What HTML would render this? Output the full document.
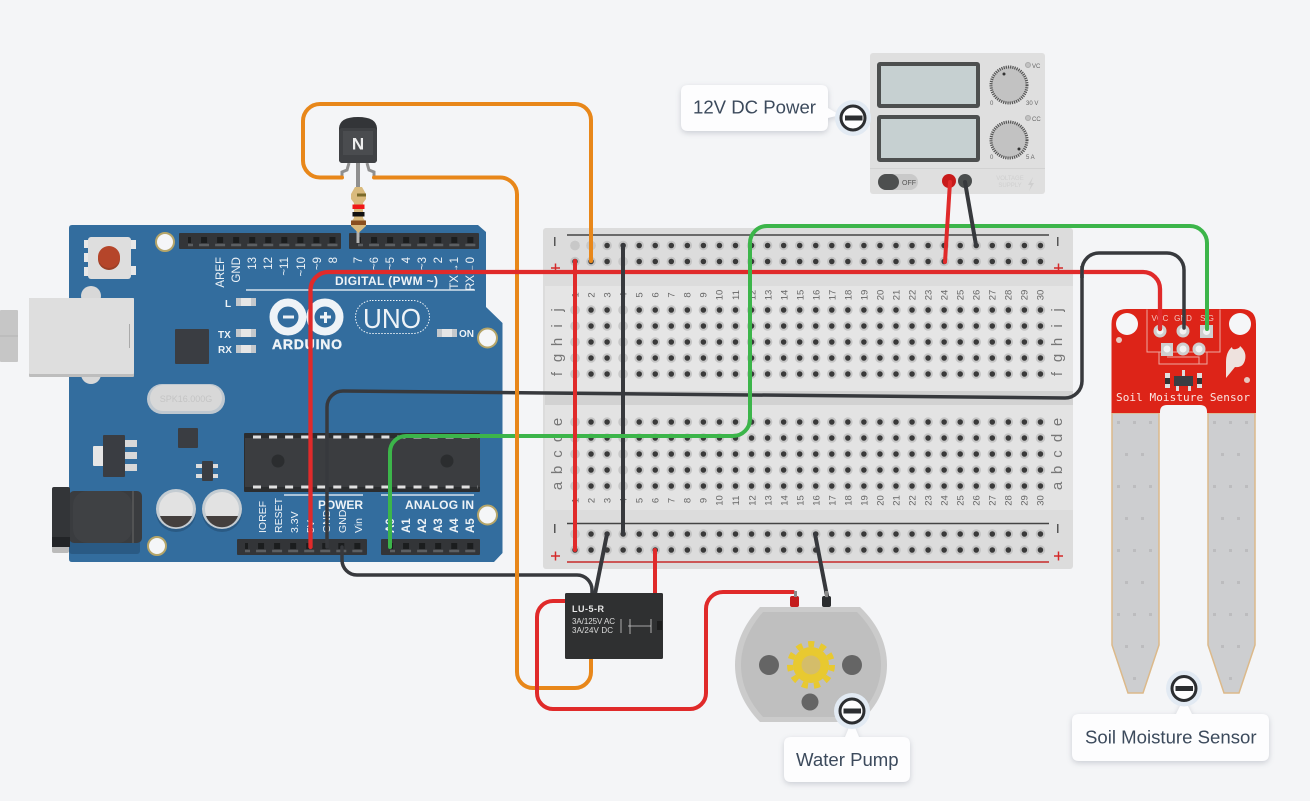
<!DOCTYPE html>
<html><head><meta charset="utf-8"><style>
html,body{margin:0;padding:0;background:#f4f5f7}
svg{display:block}
text{font-family:"Liberation Sans",sans-serif}
.w{fill:none;stroke-width:4;stroke-linejoin:round;stroke-linecap:round}
.ar text{fill:#eef3f7;font-size:11.5px}
.bn text{fill:#666;font-size:9.5px;text-anchor:middle}
.bl text{fill:#777;font-size:15px;text-anchor:middle}
</style></head><body>
<svg width="1310" height="801" viewBox="0 0 1310 801" xmlns="http://www.w3.org/2000/svg">
<rect width="1310" height="801" fill="#f4f5f7"/>

<!-- USB stub -->
<rect x="0" y="310" width="18" height="52" rx="1" fill="#c6c6c6"/>
<line x1="0" y1="336" x2="18" y2="336" stroke="#b4b4b4"/>

<!-- Arduino -->
<g class="ar">
<path d="M72 225H478L486 232V307L502.500 323V553L494 562H72Q69 562 69 559V228Q69 225 72 225Z" fill="#336d9e"/>
<rect x="179" y="233" width="162" height="16" rx="1" fill="#333538"/>
<rect x="349" y="233" width="130" height="16" rx="1" fill="#333538"/>
<rect x="237" y="539" width="130" height="16" rx="1" fill="#333538"/>
<rect x="381" y="539" width="99" height="16" rx="1" fill="#333538"/>
<path d="M188 240H340M358 240H478M245 546H366M390 546H478" stroke="#1b1d1e" stroke-width="6" stroke-dasharray="6 10.05" stroke-dashoffset="3"/>
<path d="M188 245H340M358 245H478M245 551H366M390 551H478" stroke="#5c5f62" stroke-width="2.500" stroke-dasharray="10 6.05" stroke-dashoffset="5"/>

<rect x="84" y="240" width="6" height="8" fill="#e8e8e8"/><rect x="84" y="253" width="6" height="9" fill="#e8e8e8"/><rect x="84" y="267" width="6" height="9" fill="#e8e8e8"/>
<rect x="131" y="240" width="5" height="9" fill="#e8e8e8"/><rect x="131" y="266" width="5" height="9" fill="#e8e8e8"/>
<rect x="88" y="237" width="43" height="42" rx="3" fill="#dedede"/>
<circle cx="109" cy="259" r="11" fill="#9a3f26"/><circle cx="109" cy="257" r="11" fill="#b5452a"/>

<circle cx="91" cy="296" r="10" fill="#d8d8d8"/><circle cx="91" cy="374" r="10" fill="#d8d8d8"/>
<rect x="29" y="298" width="105" height="79" rx="1" fill="#bdbdbd"/>
<rect x="29" y="298" width="105" height="76" rx="1" fill="#dedede"/>
<line x1="129.500" y1="324" x2="129.500" y2="348" stroke="#aaa"/>

<rect x="175" y="329" width="34" height="35" rx="1" fill="#3a3d42"/>
<rect x="147" y="384" width="78" height="30" rx="15" fill="#bfc8d0"/>
<rect x="150" y="385" width="72" height="26" rx="13" fill="#d8d8d8"/>
<text x="186" y="402" text-anchor="middle" style="font-size:9px;fill:#c4c4c4">SPK16.000G</text>
<rect x="178" y="428" width="20" height="20" rx="1" fill="#3a3d42"/>

<rect x="93" y="446" width="14" height="20" rx="1" fill="#e6e6e6"/>
<rect x="125" y="440" width="12" height="7" fill="#d8d8d8"/><rect x="125" y="452" width="12" height="7" fill="#d8d8d8"/><rect x="125" y="464" width="12" height="7" fill="#d8d8d8"/>
<rect x="103" y="435" width="22" height="42" rx="1" fill="#3a3d42"/>
<rect x="196" y="464" width="22" height="4" fill="#ddd"/><rect x="196" y="474" width="22" height="4" fill="#ddd"/>
<rect x="202" y="461" width="11" height="20" rx="1" fill="#3a3d42"/>

<rect x="69" y="505" width="71" height="49" rx="3" fill="#2a5a84"/>
<rect x="52" y="540" width="17" height="13" rx="2" fill="#bbb"/>
<rect x="69" y="491" width="73" height="52" rx="5" fill="#3a3c3f"/>
<rect x="73" y="491" width="59" height="52" rx="14" fill="#3f4144"/>
<line x1="133" y1="491" x2="133" y2="543" stroke="#6a6a6a"/>
<rect x="52" y="487" width="18" height="60" rx="2" fill="#333538"/>
<rect x="52" y="537" width="18" height="10" fill="#222427"/>

<circle cx="176" cy="512" r="20" fill="#2a5a84"/><circle cx="222" cy="512" r="20" fill="#2a5a84"/>
<circle cx="176" cy="509" r="20" fill="#c4ccd2"/><circle cx="222" cy="509" r="20" fill="#c4ccd2"/>
<circle cx="176" cy="509" r="17" fill="#e2e2e2"/><circle cx="222" cy="509" r="17" fill="#e2e2e2"/>
<path d="M160 516A17 17 0 0 0 192 516Z" fill="#443f3d"/><path d="M206 516A17 17 0 0 0 238 516Z" fill="#443f3d"/>

<g fill="#f5f6f8" stroke="#b5a569" stroke-width="2">
<circle cx="165" cy="242" r="9"/><circle cx="487.500" cy="338" r="9.500"/><circle cx="487.500" cy="515" r="9.500"/><circle cx="157" cy="546" r="9"/>
</g>

<rect x="244" y="433" width="236" height="59" rx="1" fill="#2b2d2f"/>
<rect x="245" y="438" width="235" height="49" fill="#3b3d40"/>
<path d="M253 437H478M253 487H478" stroke="#e0e0e0" stroke-width="3" stroke-dasharray="8 8.050"/>
<circle cx="278" cy="461" r="6.500" fill="#2b2d2f"/><circle cx="447" cy="461" r="6.500" fill="#2b2d2f"/>

<g fill="#c4c8cc"><rect x="236" y="298" width="20" height="8"/><rect x="236" y="329" width="20" height="8"/><rect x="236" y="345" width="20" height="8"/><rect x="437" y="329" width="20" height="8"/></g>
<g fill="#e6e6e6"><rect x="241" y="298" width="10" height="8"/><rect x="241" y="329" width="10" height="8"/><rect x="241" y="345" width="10" height="8"/><rect x="442" y="329" width="10" height="8"/></g>
<text x="225" y="307" style="font-size:10px;font-weight:bold">L</text>
<text x="218" y="338" style="font-size:10px;font-weight:bold">TX</text>
<text x="218" y="353" style="font-size:10px;font-weight:bold">RX</text>
<text x="459" y="337" style="font-size:10px;font-weight:bold">ON</text>

<path d="M246 290H475M284 495H363M381 495H474" stroke="#d5e2ec" stroke-width="1.500"/>
<text x="335" y="285" style="font-size:12px;font-weight:bold" textLength="103">DIGITAL (PWM ~)</text>
<text x="318" y="509" style="font-size:12px;font-weight:bold" textLength="45">POWER</text>
<text x="405" y="509" style="font-size:12px;font-weight:bold" textLength="69">ANALOG IN</text>

<circle cx="288" cy="317" r="14.500" fill="none" stroke="#eef3f7" stroke-width="8"/>
<circle cx="325" cy="317" r="14.500" fill="none" stroke="#eef3f7" stroke-width="8"/>
<rect x="283" y="315.500" width="11" height="3" fill="#eef3f7"/>
<rect x="320" y="315.500" width="11" height="3" fill="#eef3f7"/><rect x="324" y="312" width="3" height="11" fill="#eef3f7"/>
<text x="272" y="349" style="font-size:14px;font-weight:bold;stroke:#eef3f7;stroke-width:.4" textLength="70">ARDUINO</text>
<rect x="355.500" y="300.500" width="74" height="33" rx="16.500" fill="none" stroke="#eef3f7" stroke-dasharray="1.500 1.500"/>
<text x="363" y="328" style="font-size:28px" textLength="58" lengthAdjust="spacingAndGlyphs">UNO</text>

<g>
<text transform="translate(224 257) rotate(-90)" text-anchor="end">AREF</text>
<text transform="translate(240 257) rotate(-90)" text-anchor="end">GND</text>
<text transform="translate(256 257) rotate(-90)" text-anchor="end">13</text>
<text transform="translate(272 257) rotate(-90)" text-anchor="end">12</text>
<text transform="translate(288 257) rotate(-90)" text-anchor="end">~11</text>
<text transform="translate(305 257) rotate(-90)" text-anchor="end">~10</text>
<text transform="translate(321 257) rotate(-90)" text-anchor="end">~9</text>
<text transform="translate(337 257) rotate(-90)" text-anchor="end">8</text>
<text transform="translate(362 257) rotate(-90)" text-anchor="end">7</text>
<text transform="translate(378 257) rotate(-90)" text-anchor="end">~6</text>
<text transform="translate(394 257) rotate(-90)" text-anchor="end">~5</text>
<text transform="translate(410 257) rotate(-90)" text-anchor="end">4</text>
<text transform="translate(426 257) rotate(-90)" text-anchor="end">~3</text>
<text transform="translate(442 257) rotate(-90)" text-anchor="end">2</text>
<text transform="translate(458 257) rotate(-90)" text-anchor="end">TX→1</text>
<text transform="translate(474 257) rotate(-90)" text-anchor="end">RX←0</text>
<text transform="translate(266 533) rotate(-90)" style="font-size:10.500px">IOREF</text>
<text transform="translate(282 533) rotate(-90)" style="font-size:10.500px">RESET</text>
<text transform="translate(298 533) rotate(-90)" style="font-size:10.500px">3.3V</text>
<text transform="translate(314 533) rotate(-90)" style="font-size:10.500px">5V</text>
<text transform="translate(330 533) rotate(-90)" style="font-size:10.500px">GND</text>
<text transform="translate(346 533) rotate(-90)" style="font-size:10.500px">GND</text>
<text transform="translate(362 533) rotate(-90)" style="font-size:10.500px">Vin</text>
<text transform="translate(394 533) rotate(-90)" style="font-weight:bold">A0</text>
<text transform="translate(410 533) rotate(-90)" style="font-weight:bold">A1</text>
<text transform="translate(426 533) rotate(-90)" style="font-weight:bold">A2</text>
<text transform="translate(442 533) rotate(-90)" style="font-weight:bold">A3</text>
<text transform="translate(458 533) rotate(-90)" style="font-weight:bold">A4</text>
<text transform="translate(474 533) rotate(-90)" style="font-weight:bold">A5</text>
</g>
</g>

<!-- Breadboard -->
<rect x="543" y="228" width="530" height="341" rx="3" fill="#dcdcdc"/>
<rect x="545" y="286" width="528" height="105" fill="#e5e5e5"/>
<rect x="545" y="391" width="528" height="14" fill="#d2d2d2"/>
<rect x="545" y="405" width="528" height="105" fill="#e3e3e3"/>
<line x1="567" y1="235" x2="1049" y2="235" stroke="#444" stroke-width="1.500"/>
<line x1="567" y1="272" x2="1049" y2="272" stroke="#c62a2a" stroke-width="1.500"/>
<line x1="567" y1="523.500" x2="1049" y2="523.500" stroke="#444" stroke-width="1.500"/>
<line x1="567" y1="562" x2="1049" y2="562" stroke="#c62a2a" stroke-width="1.500"/>
<g fill="none" stroke-linecap="round" stroke-dasharray="0 16.05">
<path stroke="#c4c4c4" stroke-width="9.500" d="M575 245.500H1041M575 261.500H1041M575 310H1041M575 326H1041M575 342H1041M575 358H1041M575 374H1041M575 422H1041M575 438H1041M575 454H1041M575 470H1041M575 486H1041M575 534H1041M575 550H1041"/>
<path stroke="#3a3a3a" stroke-width="5.500" d="M575 245.500H1041M575 261.500H1041M575 310H1041M575 326H1041M575 342H1041M575 358H1041M575 374H1041M575 422H1041M575 438H1041M575 454H1041M575 470H1041M575 486H1041M575 534H1041M575 550H1041"/>
</g>
<g fill="#c8c8c8">
<circle cx="575" cy="245.500" r="4.750"/><circle cx="623" cy="261.500" r="4.750"/><circle cx="591" cy="245.500" r="4.750"/>
<circle cx="575" cy="310" r="4.750"/><circle cx="575" cy="326" r="4.750"/><circle cx="575" cy="342" r="4.750"/><circle cx="575" cy="358" r="4.750"/><circle cx="575" cy="374" r="4.750"/>
<circle cx="623" cy="310" r="4.750"/><circle cx="623" cy="326" r="4.750"/><circle cx="623" cy="342" r="4.750"/><circle cx="623" cy="358" r="4.750"/><circle cx="623" cy="374" r="4.750"/>
<circle cx="575" cy="422" r="4.750"/><circle cx="575" cy="438" r="4.750"/><circle cx="575" cy="454" r="4.750"/><circle cx="575" cy="470" r="4.750"/><circle cx="575" cy="486" r="4.750"/>
<circle cx="623" cy="422" r="4.750"/><circle cx="623" cy="438" r="4.750"/><circle cx="623" cy="454" r="4.750"/><circle cx="623" cy="470" r="4.750"/><circle cx="623" cy="486" r="4.750"/>
<circle cx="575" cy="534" r="4.750"/>
</g>
<g fill="#555">
<rect x="554" y="237" width="1.500" height="9"/><rect x="1057" y="237" width="1.500" height="9"/>
<rect x="554" y="524" width="1.500" height="9"/><rect x="1057" y="524" width="1.500" height="9"/>
<path d="M551 268H560M555.500 263.500V272.500M1054 268H1063M1058.500 263.500V272.500M551 556H560M555.500 551.500V560.500M1054 556H1063M1058.500 551.500V560.500" stroke="#d42a2a" stroke-width="1.500"/>
</g>
<g class="bl">
<text transform="translate(562 310) rotate(-90)">j</text><text transform="translate(562 326) rotate(-90)">i</text><text transform="translate(562 342) rotate(-90)">h</text><text transform="translate(562 358) rotate(-90)">g</text><text transform="translate(562 374) rotate(-90)">f</text>
<text transform="translate(562 422) rotate(-90)">e</text><text transform="translate(562 438) rotate(-90)">d</text><text transform="translate(562 454) rotate(-90)">c</text><text transform="translate(562 470) rotate(-90)">b</text><text transform="translate(562 486) rotate(-90)">a</text>
<text transform="translate(1062 310) rotate(-90)">j</text><text transform="translate(1062 326) rotate(-90)">i</text><text transform="translate(1062 342) rotate(-90)">h</text><text transform="translate(1062 358) rotate(-90)">g</text><text transform="translate(1062 374) rotate(-90)">f</text>
<text transform="translate(1062 422) rotate(-90)">e</text><text transform="translate(1062 438) rotate(-90)">d</text><text transform="translate(1062 454) rotate(-90)">c</text><text transform="translate(1062 470) rotate(-90)">b</text><text transform="translate(1062 486) rotate(-90)">a</text>
</g>
<g class="bn">
<g transform="translate(0 295)">
<text transform="translate(578.500 0) rotate(-90)">1</text><text transform="translate(594.500 0) rotate(-90)">2</text><text transform="translate(610.500 0) rotate(-90)">3</text><text transform="translate(626.500 0) rotate(-90)">4</text><text transform="translate(642.500 0) rotate(-90)">5</text><text transform="translate(658.500 0) rotate(-90)">6</text><text transform="translate(674.500 0) rotate(-90)">7</text><text transform="translate(690.500 0) rotate(-90)">8</text><text transform="translate(706.500 0) rotate(-90)">9</text><text transform="translate(722.500 0) rotate(-90)">10</text><text transform="translate(739 0) rotate(-90)">11</text><text transform="translate(755.500 0) rotate(-90)">12</text><text transform="translate(771.500 0) rotate(-90)">13</text><text transform="translate(787.500 0) rotate(-90)">14</text><text transform="translate(803.500 0) rotate(-90)">15</text><text transform="translate(819.500 0) rotate(-90)">16</text><text transform="translate(835.500 0) rotate(-90)">17</text><text transform="translate(851.500 0) rotate(-90)">18</text><text transform="translate(867.500 0) rotate(-90)">19</text><text transform="translate(883.500 0) rotate(-90)">20</text><text transform="translate(899.500 0) rotate(-90)">21</text><text transform="translate(915.500 0) rotate(-90)">22</text><text transform="translate(931.500 0) rotate(-90)">23</text><text transform="translate(947.500 0) rotate(-90)">24</text><text transform="translate(963.500 0) rotate(-90)">25</text><text transform="translate(979.500 0) rotate(-90)">26</text><text transform="translate(995.500 0) rotate(-90)">27</text><text transform="translate(1011.500 0) rotate(-90)">28</text><text transform="translate(1027.500 0) rotate(-90)">29</text><text transform="translate(1043.500 0) rotate(-90)">30</text>
</g>
<g transform="translate(0 500.500)">
<text transform="translate(578.500 0) rotate(-90)">1</text><text transform="translate(594.500 0) rotate(-90)">2</text><text transform="translate(610.500 0) rotate(-90)">3</text><text transform="translate(626.500 0) rotate(-90)">4</text><text transform="translate(642.500 0) rotate(-90)">5</text><text transform="translate(658.500 0) rotate(-90)">6</text><text transform="translate(674.500 0) rotate(-90)">7</text><text transform="translate(690.500 0) rotate(-90)">8</text><text transform="translate(706.500 0) rotate(-90)">9</text><text transform="translate(722.500 0) rotate(-90)">10</text><text transform="translate(739 0) rotate(-90)">11</text><text transform="translate(755.500 0) rotate(-90)">12</text><text transform="translate(771.500 0) rotate(-90)">13</text><text transform="translate(787.500 0) rotate(-90)">14</text><text transform="translate(803.500 0) rotate(-90)">15</text><text transform="translate(819.500 0) rotate(-90)">16</text><text transform="translate(835.500 0) rotate(-90)">17</text><text transform="translate(851.500 0) rotate(-90)">18</text><text transform="translate(867.500 0) rotate(-90)">19</text><text transform="translate(883.500 0) rotate(-90)">20</text><text transform="translate(899.500 0) rotate(-90)">21</text><text transform="translate(915.500 0) rotate(-90)">22</text><text transform="translate(931.500 0) rotate(-90)">23</text><text transform="translate(947.500 0) rotate(-90)">24</text><text transform="translate(963.500 0) rotate(-90)">25</text><text transform="translate(979.500 0) rotate(-90)">26</text><text transform="translate(995.500 0) rotate(-90)">27</text><text transform="translate(1011.500 0) rotate(-90)">28</text><text transform="translate(1027.500 0) rotate(-90)">29</text><text transform="translate(1043.500 0) rotate(-90)">30</text>
</g>
</g>

<!-- Power supply -->
<rect x="870" y="53" width="175" height="141" rx="3" fill="#dfdfdf"/>
<line x1="870" y1="168.500" x2="1045" y2="168.500" stroke="#d2d2d2"/>
<rect x="879" y="64" width="99" height="42" fill="#c6d0d1" stroke="#4d4f4f" stroke-width="4" rx="1"/>
<rect x="879" y="117" width="99" height="43" fill="#c6d0d1" stroke="#4d4f4f" stroke-width="4" rx="1"/>
<circle cx="1009" cy="85" r="18" fill="#c2c2c2" stroke="#555" stroke-width="3" stroke-dasharray="1.200 1"/>
<circle cx="1009" cy="140" r="18" fill="#c2c2c2" stroke="#555" stroke-width="3" stroke-dasharray="1.200 1"/>
<circle cx="1004" cy="74" r="1.500" fill="#333"/><circle cx="1019" cy="149" r="1.500" fill="#333"/>
<circle cx="1028" cy="65" r="2.500" fill="#c2c2c2" stroke="#aaa"/><circle cx="1028" cy="118" r="2.500" fill="#c2c2c2" stroke="#aaa"/>
<g fill="#666">
<text x="1032" y="68" style="font-size:6px">VC</text><text x="1032" y="121" style="font-size:6px">CC</text>
<text x="990" y="105" style="font-size:6px">0</text><text x="1026" y="105" style="font-size:6px">30 V</text>
<text x="990" y="159" style="font-size:6px">0</text><text x="1026" y="159" style="font-size:6px">5 A</text>
</g>
<rect x="878" y="174" width="40" height="16" rx="8" fill="#c9c9c9"/>
<rect x="878" y="174" width="21" height="16" rx="8" fill="#4d4f4f"/>
<text x="902" y="185" style="font-size:7px;fill:#555">OFF</text>
<circle cx="949" cy="181" r="7" fill="#c81a1a"/>
<circle cx="965" cy="181" r="7" fill="#4a4d4d"/>
<text x="1010" y="180" text-anchor="middle" style="font-size:6px;fill:#cfcfcf">VOLTAGE</text>
<text x="1010" y="187" text-anchor="middle" style="font-size:6px;fill:#cfcfcf">SUPPLY</text>
<path d="M1033 177L1028 185H1031L1029 191L1034 183H1031Z" fill="#cfcfcf"/>

<!-- Motor -->
<rect x="790" y="596" width="9" height="11" rx="2" fill="#c41d1d"/>
<rect x="822" y="596" width="9" height="11" rx="2" fill="#2a2c2e"/>
<path d="M760 607H860C878 624 887 644 887 665C887 686 878 706 860 722H760C744 706 735 686 735 665C735 644 744 624 760 607Z" fill="#cbcbcb"/>
<path d="M763 612H857C873 628 881 646 881 665C881 684 873 702 857 717H763C749 702 741 684 741 665C741 646 749 628 763 612Z" fill="#bfbfbf"/>
<circle cx="769" cy="665" r="10" fill="#656565"/><circle cx="852" cy="665" r="10" fill="#656565"/><circle cx="810" cy="702" r="8.500" fill="#656565"/>
<circle cx="811" cy="665" r="18" fill="#e8c930"/>
<circle cx="811" cy="665" r="21" fill="none" stroke="#e8c930" stroke-width="6" stroke-dasharray="6 6"/>
<circle cx="811" cy="665" r="9.500" fill="#d4bd6a"/>

<!-- Sensor -->
<path d="M1112 413V645L1128 693H1143L1159 645V413Z" fill="#cdced0" stroke="#dcb98a" stroke-width="1.500"/>
<path d="M1208 413V645L1224 693H1239L1255 645V413Z" fill="#cdced0" stroke="#dcb98a" stroke-width="1.500"/>
<path fill="#bcbcbe" d="M1117 421h3v3h-3zM1133 421h3v3h-3zM1149 421h3v3h-3zM1213 421h3v3h-3zM1229 421h3v3h-3zM1245 421h3v3h-3zM1125 453h3v3h-3zM1141 453h3v3h-3zM1221 453h3v3h-3zM1237 453h3v3h-3zM1117 485h3v3h-3zM1133 485h3v3h-3zM1149 485h3v3h-3zM1213 485h3v3h-3zM1229 485h3v3h-3zM1245 485h3v3h-3zM1125 517h3v3h-3zM1141 517h3v3h-3zM1221 517h3v3h-3zM1237 517h3v3h-3zM1117 549h3v3h-3zM1133 549h3v3h-3zM1149 549h3v3h-3zM1213 549h3v3h-3zM1229 549h3v3h-3zM1245 549h3v3h-3zM1125 581h3v3h-3zM1141 581h3v3h-3zM1221 581h3v3h-3zM1237 581h3v3h-3zM1117 613h3v3h-3zM1133 613h3v3h-3zM1149 613h3v3h-3zM1213 613h3v3h-3zM1229 613h3v3h-3zM1245 613h3v3h-3zM1125 645h3v3h-3zM1141 645h3v3h-3zM1221 645h3v3h-3zM1237 645h3v3h-3zM1133 677h3v3h-3zM1229 677h3v3h-3z"/>
<path d="M1127 309H1241Q1256 309 1256 324V413H1207V412Q1207 405 1200 405H1167Q1160 405 1160 412V413H1111.500V324Q1111.500 309 1127 309Z" fill="#dd2418"/>
<circle cx="1127" cy="324" r="11" fill="#f5f6f8"/><circle cx="1240" cy="324" r="11" fill="#f5f6f8"/>
<circle cx="1119" cy="340" r="3" fill="#e8c8c0"/><circle cx="1247" cy="380" r="3" fill="#e8c8c0"/>
<path d="M1147 309.500V352H1159V364H1207V352H1220V309.500M1147 352H1220M1167 357H1199V364" fill="none" stroke="#eda79f"/>
<g fill="#f3c9c4" text-anchor="middle">
<text x="1160" y="321" style="font-size:8px">VCC</text><text x="1183" y="321" style="font-size:8px">GND</text><text x="1207" y="321" style="font-size:8px">SIG</text>
</g>
<circle cx="1160" cy="331" r="5" fill="#f3f3f3" stroke="#cfcfcf" stroke-width="3"/>
<circle cx="1183" cy="331" r="5" fill="#f3f3f3" stroke="#cfcfcf" stroke-width="3"/>
<rect x="1200" y="325" width="13" height="13" fill="#cfcfcf"/><circle cx="1206.500" cy="331.500" r="3.500" fill="#f3f3f3"/>
<rect x="1161" y="343" width="12" height="13" fill="#cfcfcf"/><circle cx="1167" cy="349" r="3.500" fill="#f3f3f3"/>
<circle cx="1183" cy="349" r="5" fill="#f3f3f3" stroke="#cfcfcf" stroke-width="3"/>
<circle cx="1199" cy="349" r="5" fill="#f3f3f3" stroke="#cfcfcf" stroke-width="3"/>
<rect x="1165" y="373" width="5" height="15" fill="#e0e0e0"/><rect x="1197" y="373" width="5" height="15" fill="#e0e0e0"/>
<rect x="1165" y="378" width="5" height="6" fill="#333"/><rect x="1197" y="378" width="5" height="6" fill="#333"/>
<rect x="1174" y="376" width="19" height="10" fill="#3a3d42"/>
<rect x="1182" y="370" width="3" height="6" fill="#ddd"/><rect x="1176" y="386" width="3" height="5" fill="#ddd"/><rect x="1188" y="386" width="3" height="5" fill="#ddd"/>
<path d="M1226 378V362Q1226 352 1232 347Q1232 350 1236 349Q1240 348 1240 346Q1247 352 1245 360Q1243 368 1235 367Q1231 372 1226 378Z" fill="#eee2de"/>
<text x="1116" y="401" style="font-family:'DejaVu Sans Mono','Liberation Mono',monospace;font-size:11px;fill:#fbe6e3" textLength="134">Soil Moisture Sensor</text>

<!-- Transistor + resistor -->
<path d="M349 163L347 170L342 172V178M367 163L369 170L374 172V178" fill="none" stroke="#8f8f8f" stroke-width="3"/>
<rect x="356" y="163" width="4" height="28" fill="#8f8f8f"/>
<path d="M339 129Q339 117 358 117Q377 117 377 129V159Q377 163 373 163H343Q339 163 339 159Z" fill="#333538"/>
<rect x="339" y="128" width="38" height="35" rx="3" fill="#3f4144"/>
<rect x="343" y="131" width="30" height="24" fill="#4a4c4f"/>
<text x="358" y="149.500" text-anchor="middle" style="font-size:17px;font-weight:bold;fill:#eee">N</text>
<rect x="356.500" y="228" width="3" height="15" fill="#b2b2b2"/>
<path d="M355 187H362L366 194V199L363 203V218L366 222V226L358.500 233L351 226V222L354 218V203L351 199V194Z" fill="#d9ba7d"/>
<rect x="352.500" y="204.500" width="12" height="4.500" fill="#f01818"/>
<rect x="352.500" y="212" width="12" height="4.500" fill="#111"/>
<rect x="351" y="220.500" width="15" height="4.500" fill="#8a4f1f"/>
<rect x="357" y="193.500" width="9" height="3" fill="#7a6a2a"/>

<!-- Wires -->
<g class="w">
<path stroke="#37393d" stroke-width="3.500" d="M327 547V407A16 16 0 0 1 343 391L1065 398A17 17 0 0 0 1082 381V270A17 17 0 0 1 1099 253H1167A17 17 0 0 1 1184 270V328"/>
<path stroke="#37393d" d="M623 245V534"/>
<path stroke="#3cb54a" d="M390 547V452A16 16 0 0 1 406 436H733A17 17 0 0 0 750 419V243A17 17 0 0 1 767 226H1190A17 17 0 0 1 1207 243V329"/>
<path stroke="#e02a2a" d="M575 261V550"/>
<path stroke="#37393d" stroke-width="3.500" d="M342 547V560A15 15 0 0 0 357 575H577A15 15 0 0 1 592 590V596"/>
<path stroke="#e8871a" d="M591 261V120A16 16 0 0 0 575 104H320A17 17 0 0 0 303 121V160A17 17 0 0 0 320 177.500H342"/>
<path stroke="#e8871a" d="M374 177.500H500A17 17 0 0 1 517 195V672A16 16 0 0 0 533 688H575A16 16 0 0 0 591 672V656"/>
<path stroke="#e02a2a" stroke-width="4.300" d="M310.500 547V290A18 18 0 0 1 328.500 272H1143A17 17 0 0 1 1160 289V329"/>
<path stroke="#37393d" stroke-width="3.500" stroke-linecap="butt" d="M1082 266V278"/>
<path stroke="#37393d" stroke-linecap="butt" d="M623 266V278"/>
<path stroke="#3cb54a" stroke-linecap="butt" d="M750 266V278"/>
<path stroke="#37393d" d="M607 534L595 594"/>
<path stroke="#e02a2a" d="M655 550V595"/>
<path stroke="#e02a2a" d="M568 601H553A16 16 0 0 0 537 617V693A16 16 0 0 0 553 709H690A16 16 0 0 0 706 693V609A17 17 0 0 1 723 592H793"/>
<path stroke="#37393d" d="M815 534L827 596"/>
<path stroke="#e02a2a" d="M945 262L950 182"/>
<path stroke="#37393d" d="M976 245L965 182"/>
</g>
<rect x="794" y="591" width="3" height="6" fill="#888"/><rect x="825" y="591" width="3" height="6" fill="#888"/>

<!-- Relay -->
<rect x="565" y="593" width="98" height="66" rx="1.500" fill="#2f3031"/>
<text x="572" y="612" style="font-size:9px;font-weight:bold;fill:#e8e8e8" textLength="32">LU-5-R</text>
<text x="572" y="624" style="font-size:8px;fill:#ddd" textLength="43">3A/125V AC</text>
<text x="572" y="633" style="font-size:8px;fill:#ddd" textLength="41">3A/24V  DC</text>
<path d="M621 619V633M630 619V634M628 626H651M651 619V633" stroke="#ccc" fill="none" stroke-width="0.800"/>
<rect x="657" y="621" width="5" height="9" fill="#1e1e1e"/>

<!-- Callouts -->
<g style="filter:drop-shadow(0 2px 3px rgba(60,70,90,.22))" fill="#fdfdfe">
<path d="M688 85H821Q828 85 828 92V108L840 115L828 118V124Q828 131 821 131H688Q681 131 681 124V92Q681 85 688 85Z"/>
<path d="M791 737H845L852 720L859 737H903Q910 737 910 744V775Q910 782 903 782H791Q784 782 784 775V744Q784 737 791 737Z"/>
<path d="M1079 714H1176L1184 698L1192 714H1262Q1269 714 1269 721V754Q1269 761 1262 761H1079Q1072 761 1072 754V721Q1072 714 1079 714Z"/>
</g>
<text x="693" y="113.500" style="font-size:18.600px;fill:#3c4a5c">12V DC Power</text>
<text x="796" y="766" style="font-size:18.600px;fill:#3c4a5c">Water Pump</text>
<text x="1085" y="743.500" style="font-size:18.600px;fill:#3c4a5c">Soil Moisture Sensor</text>

<g fill="#e2eaf3"><circle cx="853" cy="118" r="18"/><circle cx="852" cy="711" r="18"/><circle cx="1184" cy="688.500" r="18"/></g>
<g fill="#fdfdfe" stroke="#2c2e31" stroke-width="3"><circle cx="853" cy="118" r="12"/><circle cx="852" cy="711" r="12"/><circle cx="1184" cy="688.500" r="12"/></g>
<g fill="#2c2e31"><rect x="845" y="115.500" width="17.500" height="5"/><rect x="843.500" y="708.500" width="17.500" height="5"/><rect x="1175.500" y="686" width="17.500" height="5"/></g>
</svg>
</body></html>
